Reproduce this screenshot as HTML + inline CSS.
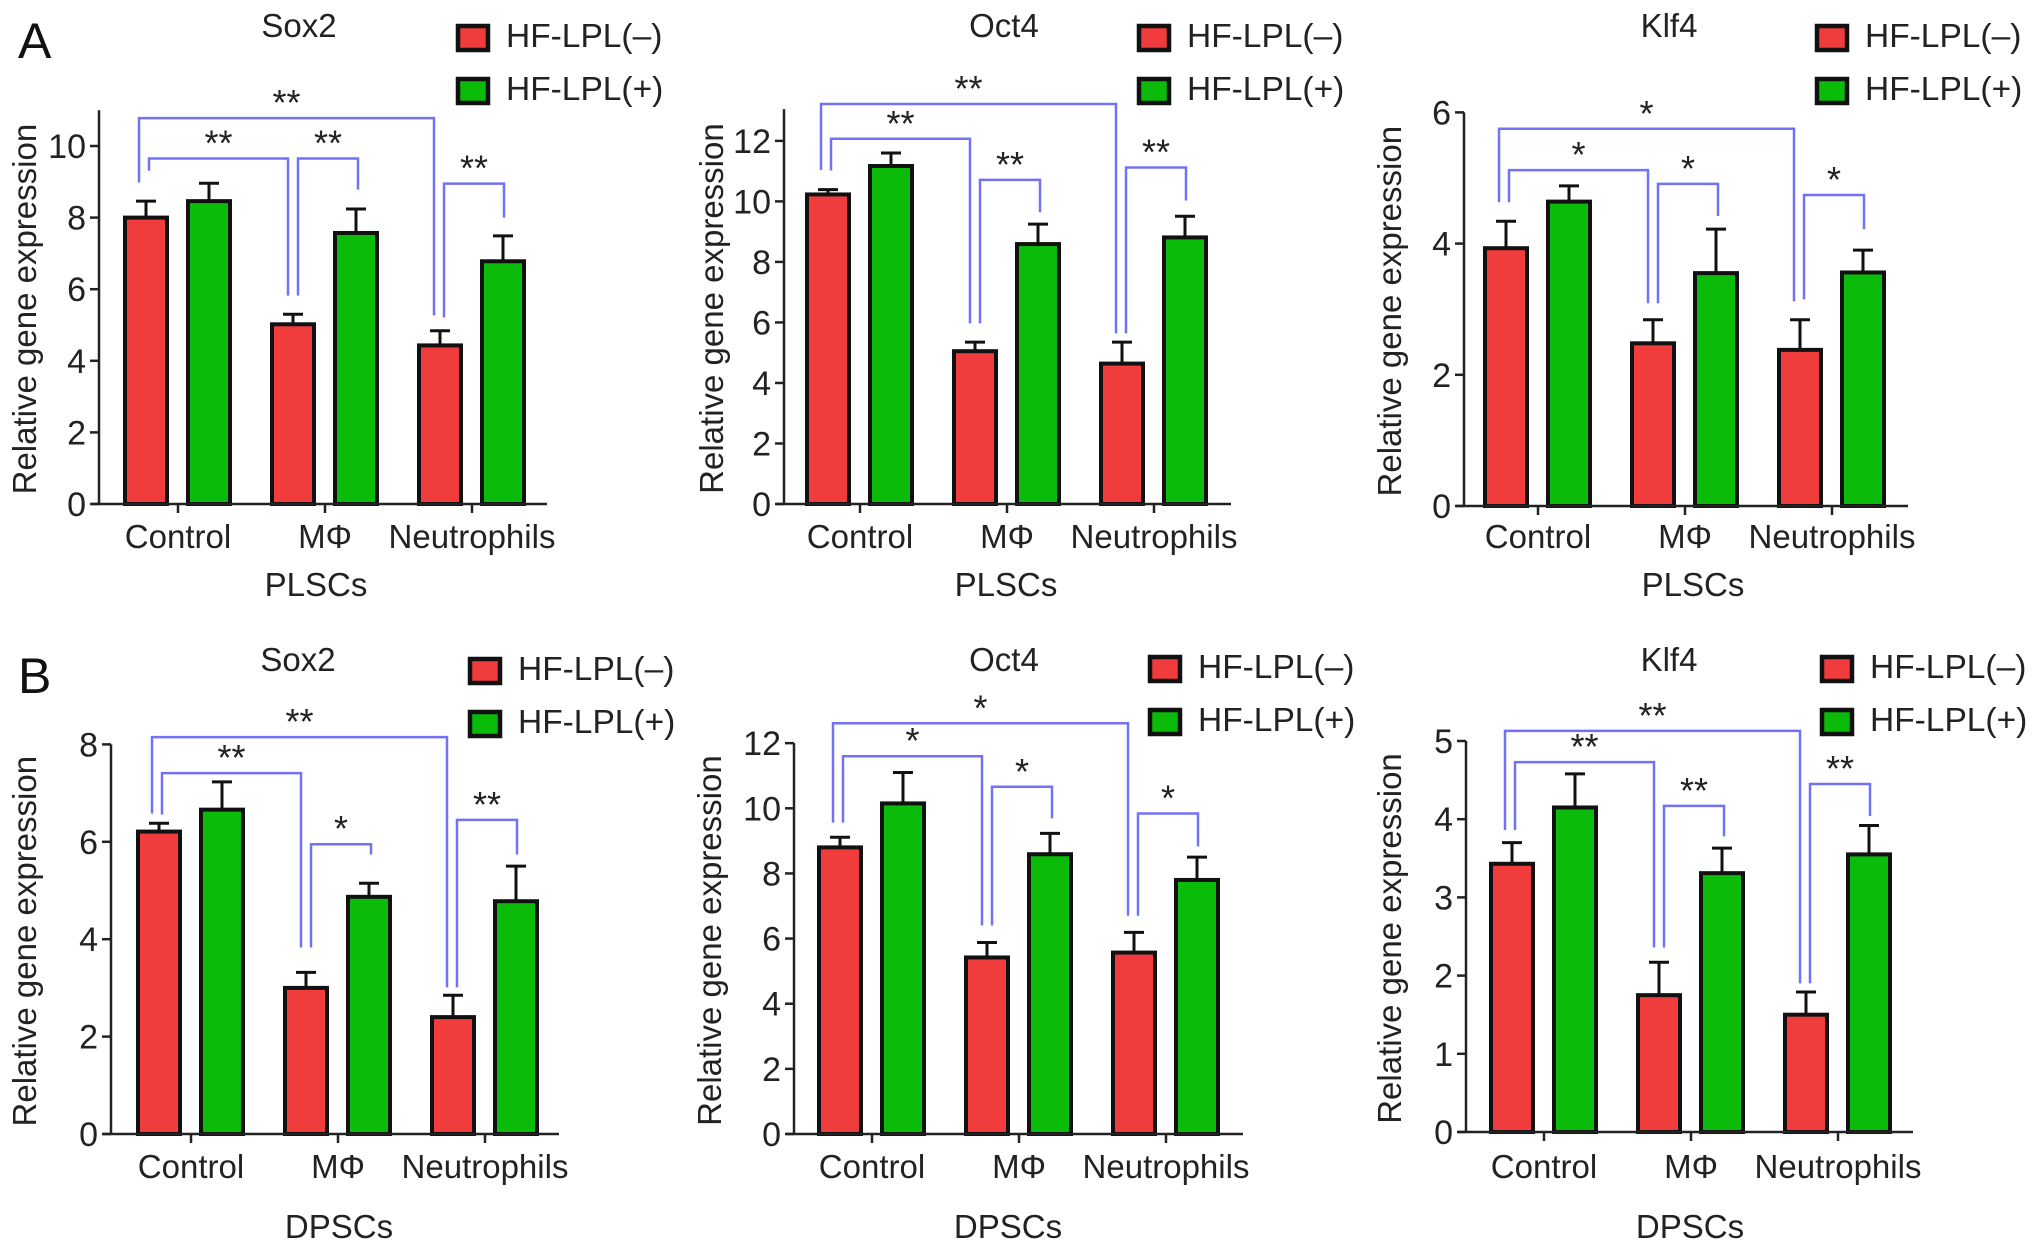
<!DOCTYPE html>
<html><head><meta charset="utf-8"><style>
html,body{margin:0;padding:0;background:#fff;}
svg{display:block;font-family:"Liberation Sans",Arial,sans-serif;}
</style></head><body>
<svg id="fig" width="2032" height="1255" viewBox="0 0 2032 1255" xmlns="http://www.w3.org/2000/svg"></svg>
<script>
// ---- data ----
const categories = ["Control", "M\u03A6", "Neutrophils"];
const panelTitles = ["Sox2", "Oct4", "Klf4", "Sox2", "Oct4", "Klf4"];
const a1Neg = [8.0, 5.02, 4.43];   const a1NegErr = [8.46, 5.3, 4.84];
const a1Pos = [8.46, 7.57, 6.78];  const a1PosErr = [8.96, 8.24, 7.49];
const a2Neg = [10.23, 5.05, 4.64]; const a2NegErr = [10.39, 5.35, 5.35];
const a2Pos = [11.17, 8.59, 8.81]; const a2PosErr = [11.6, 9.25, 9.51];
const a3Neg = [3.93, 2.48, 2.38];  const a3NegErr = [4.34, 2.84, 2.84];
const a3Pos = [4.64, 3.55, 3.56];  const a3PosErr = [4.88, 4.22, 3.9];
const b1Neg = [6.21, 3.0, 2.4];    const b1NegErr = [6.38, 3.32, 2.85];
const b1Pos = [6.66, 4.87, 4.78];  const b1PosErr = [7.23, 5.15, 5.5];
const b2Neg = [8.8, 5.42, 5.57];   const b2NegErr = [9.11, 5.88, 6.19];
const b2Pos = [10.15, 8.59, 7.8];  const b2PosErr = [11.1, 9.23, 8.5];
const b3Neg = [3.43, 1.75, 1.5];   const b3NegErr = [3.7, 2.17, 1.79];
const b3Pos = [4.15, 3.31, 3.55];  const b3PosErr = [4.58, 3.63, 3.92];
const a1Ticks = [0,2,4,6,8,10]; const a2Ticks = [0,2,4,6,8,10,12]; const a3Ticks = [0,2,4,6];
const b1Ticks = [0,2,4,6,8];    const b2Ticks = [0,2,4,6,8,10,12];  const b3Ticks = [0,1,2,3,4,5];
// brackets: [level, leftLegEnd, rightLegEnd] for outer, ctrl-MΦ, MΦ pair, Neut pair
const a1Brackets = [[10.78,8.98,5.27],[9.65,9.31,5.82],[9.65,5.82,8.78],[8.95,5.21,8.0]];
const a2Brackets = [[13.22,11.04,5.64],[12.07,11.02,5.97],[10.71,5.97,9.64],[11.12,5.64,10.03]];
const a3Brackets = [[5.75,4.63,3.12],[5.12,4.63,3.09],[4.91,3.09,4.42],[4.74,3.15,4.22]];
const b1Brackets = [[8.15,6.58,3.01],[7.41,6.56,3.83],[5.95,3.83,5.74],[6.45,3.01,5.74]];
const b2Brackets = [[12.61,9.56,6.7],[11.6,9.56,6.4],[10.66,6.4,9.69],[9.84,6.7,8.83]];
const b3Brackets = [[5.13,3.86,1.9],[4.73,3.86,2.36],[4.17,2.36,3.78],[4.45,1.9,4.04]];
const a1Stars = ["**","**","**","**"]; const a2Stars = ["**","**","**","**"]; const a3Stars = ["*","*","*","*"];
const b1Stars = ["**","**","*","**"];  const b2Stars = ["*","*","*","*"];     const b3Stars = ["**","**","**","**"];

// ---- layout ----
const panels = [
 {id:"a1", ax:99,  base:504,  ppu:35.8,  top:11.0, xend:547,  g0:178,  neg:a1Neg,pos:a1Pos,negE:a1NegErr,posE:a1PosErr,ticks:a1Ticks,br:a1Brackets,st:a1Stars,title:panelTitles[0],tx:299, ty:37, lx:456, ly:22, ytx:24, cell:"PLSCs", cx:316, cy:596, catY:548},
 {id:"a2", ax:784, base:504,  ppu:30.26, top:13.05,xend:1231, g0:860,  neg:a2Neg,pos:a2Pos,negE:a2NegErr,posE:a2PosErr,ticks:a2Ticks,br:a2Brackets,st:a2Stars,title:panelTitles[1],tx:1004,ty:37, lx:1137,ly:22, ytx:711,cell:"PLSCs", cx:1006,cy:596, catY:548},
 {id:"a3", ax:1464,base:506,  ppu:65.6,  top:6.0,  xend:1908, g0:1538, neg:a3Neg,pos:a3Pos,negE:a3NegErr,posE:a3PosErr,ticks:a3Ticks,br:a3Brackets,st:a3Stars,title:panelTitles[2],tx:1669,ty:37, lx:1815,ly:22, ytx:1389,cell:"PLSCs",cx:1693,cy:596, catY:548},
 {id:"b1", ax:111, base:1134, ppu:48.7,  top:8.0,  xend:559,  g0:191,  neg:b1Neg,pos:b1Pos,negE:b1NegErr,posE:b1PosErr,ticks:b1Ticks,br:b1Brackets,st:b1Stars,title:panelTitles[3],tx:298, ty:671,lx:468, ly:655, ytx:24, cell:"DPSCs", cx:339, cy:1238,catY:1178},
 {id:"b2", ax:794, base:1134, ppu:32.57, top:12.0, xend:1243, g0:872,  neg:b2Neg,pos:b2Pos,negE:b2NegErr,posE:b2PosErr,ticks:b2Ticks,br:b2Brackets,st:b2Stars,title:panelTitles[4],tx:1004,ty:671,lx:1148,ly:653, ytx:709,cell:"DPSCs", cx:1008,cy:1238,catY:1178},
 {id:"b3", ax:1466,base:1132, ppu:78.2,  top:5.0,  xend:1913, g0:1544, neg:b3Neg,pos:b3Pos,negE:b3NegErr,posE:b3PosErr,ticks:b3Ticks,br:b3Brackets,st:b3Stars,title:panelTitles[5],tx:1669,ty:671,lx:1820,ly:653, ytx:1389,cell:"DPSCs",cx:1690,cy:1238,catY:1178}
];
const RED="#f03c3c", GREEN="#0abb0a", BLUE="#7272f8";
const svg=document.getElementById('fig');
const NS="http://www.w3.org/2000/svg";
function mk(tag,attrs,parent){const e=document.createElementNS(NS,tag);for(const k in attrs)e.setAttribute(k,attrs[k]);(parent||svg).appendChild(e);return e;}
function txt(s,attrs,parent){const e=mk('text',attrs,parent);e.textContent=s;return e;}

let L=txt("A",{x:18,y:58,'font-size':50,fill:'#111'});


L=txt("B",{x:18,y:693,'font-size':50,fill:'#111'});



panels.forEach(p=>{
  const g=mk('g',{});
  
  
  const y=v=>p.base-v*p.ppu;
  const gx=i=>p.g0+i*147;
  const barX=(i,s)=>gx(i)+(s===0?-32:31);
  [[p.neg,p.negE,RED,'red'],[p.pos,p.posE,GREEN,'green']].forEach((ser,s)=>{
    ser[0].forEach((v,i)=>{
      const cx=barX(i,s);
      const el=mk('line',{x1:cx,x2:cx,y1:y(v),y2:y(ser[1][i]),stroke:'#111','stroke-width':3},g);
      
      
      const cap=mk('line',{x1:cx-10,x2:cx+10,y1:y(ser[1][i]),y2:y(ser[1][i]),stroke:'#111','stroke-width':3},g);
      
      
      const r=mk('rect',{x:cx-21,y:y(v),width:42,height:v*p.ppu,fill:ser[2],stroke:'#111','stroke-width':4},g);
      
      
    });
  });
  const ya=mk('line',{x1:p.ax,x2:p.ax,y1:p.base,y2:y(p.top),stroke:'#222','stroke-width':2.5},g);
  
  
  const xa=mk('line',{x1:p.ax-8,x2:p.xend,y1:p.base,y2:p.base,stroke:'#222','stroke-width':2.5},g);
  
  
  p.ticks.forEach(t=>{
    mk('line',{x1:p.ax-9,x2:p.ax,y1:y(t),y2:y(t),stroke:'#222','stroke-width':2.5},g);
    const tl=txt(String(t),{x:p.ax-13,y:y(t)+12,'font-size':34,'text-anchor':'end',fill:'#222'},g);
    
    
  });
  categories.forEach((c,i)=>{
    mk('line',{x1:gx(i),x2:gx(i),y1:p.base,y2:p.base+9,stroke:'#222','stroke-width':2.5},g);
    const cl=txt(c,{x:gx(i),y:p.catY,'font-size':33,'text-anchor':'middle',fill:'#222'},g);
    
    
  });
  const yt=txt("Relative gene expression",{x:0,y:0,'font-size':33,'text-anchor':'middle',fill:'#222',transform:`translate(${p.ytx+12},${(p.base+y(p.top))/2+2}) rotate(-90)`},g);
  
  
  const xt=txt(p.cell,{x:p.cx,y:p.cy,'font-size':33,'text-anchor':'middle',fill:'#222'},g);
  
  
  const tt=txt(p.title,{x:p.tx,y:p.ty,'font-size':33,'text-anchor':'middle',fill:'#222'},g);
  
  
  [["HF-LPL(\u2013)",RED],["HF-LPL(+)",GREEN]].forEach((le,k)=>{
    const ly=p.ly+k*53;
    const lg=mk('g',{},g);
    
    
    mk('rect',{x:p.lx+2,y:ly+4,width:30,height:24,fill:le[1],stroke:'#111','stroke-width':4.5},lg);
    txt(le[0],{x:p.lx+50,y:ly+25,'font-size':33.5,fill:'#222'},lg);
  });
  const legs=[[barX(0,0)-7,barX(2,0)-6],[barX(0,0)+3,barX(1,0)-5],[barX(1,0)+5,barX(1,1)+2],[barX(2,0)+4,barX(2,1)+1]];
  p.br.forEach((b,k)=>{
    const x1=legs[k][0],x2=legs[k][1];
    const pl=mk('polyline',{points:`${x1},${y(b[1])} ${x1},${y(b[0])} ${x2},${y(b[0])} ${x2},${y(b[2])}`,fill:'none',stroke:BLUE,'stroke-width':2.5},g);
    
    
    const s=txt(p.st[k],{x:(x1+x2)/2,y:y(b[0])-3,'font-size':36,'text-anchor':'middle',fill:'#222'},g);
    
    
  });
});
</script>
</body></html>
